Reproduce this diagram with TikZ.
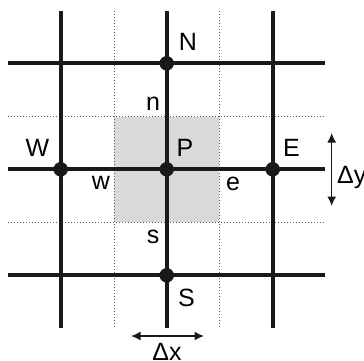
\documentclass[tikz,border=0pt]{standalone}
\usepackage{fontspec}
\setmainfont{Liberation Sans}
\usetikzlibrary{arrows.meta}
\begin{document}
\begin{tikzpicture}[x=1pt,y=-1pt,
  solidline/.style={line width=3.7pt,black!90},
  dotline/.style={line width=0.9pt,black!65,dash pattern=on 1.2pt off 1.8pt},
  gridpt/.style={circle,fill=black!90,inner sep=0pt,minimum size=14.5pt},
  lbl/.style={font=\fontsize{25}{29}\selectfont,inner sep=0pt},
  dimarrow/.style={line width=1.5pt,black!90,{Latex[length=9.5pt,width=9pt]}-{Latex[length=9.5pt,width=9pt]}}]
\useasboundingbox (0,0) rectangle (364,361);
% shaded control volume
\fill[black!15] (114,117) rectangle (219.3,222);
% dotted face lines
\foreach \x in {114,219.3} \draw[dotline] (\x,11) -- (\x,328);
\foreach \y in {116.7,222} \draw[dotline] (8,\y) -- (325,\y);
% solid grid lines
\foreach \x in {60.7,166.7,272.7} \draw[solidline] (\x,11) -- (\x,328);
\foreach \y in {63.3,169.3,275.3} \draw[solidline] (8,\y) -- (325,\y);
% grid points
\node[gridpt] (N) at (166.7,63.3) {};
\node[gridpt] (W) at (60.7,169.3) {};
\node[gridpt] (P) at (166.7,169.3) {};
\node[gridpt] (E) at (272.7,169.3) {};
\node[gridpt] (S) at (166.7,275.3) {};
% labels
\node[lbl] (lN) at (188,41.5) {N};
\node[lbl] (ln) at (153,104) {n};
\node[lbl] (lP) at (185,147.5) {P};
\node[lbl] (lW) at (37.5,147.5) {W};
\node[lbl] (lE) at (291.5,147.5) {E};
\node[lbl] (lw) at (101,182.5) {w};
\node[lbl] (le) at (233,183.5) {e};
\node[lbl] (ls) at (153,236.5) {s};
\node[lbl] (lS) at (186.5,297.5) {S};
% dimension arrows
\coordinate (dyT) at (331.7,133);
\coordinate (dyB) at (331.7,206);
\draw[dimarrow] (dyT) -- (dyB);
\node[lbl,anchor=base west] (ldy) at (337,183) {Δy};
\coordinate (dxL) at (131,336);
\coordinate (dxR) at (204,336);
\draw[dimarrow] (dxL) -- (dxR);
\node[lbl,anchor=base] (ldx) at (167,360.5) {Δx};
\end{tikzpicture}
\end{document}
